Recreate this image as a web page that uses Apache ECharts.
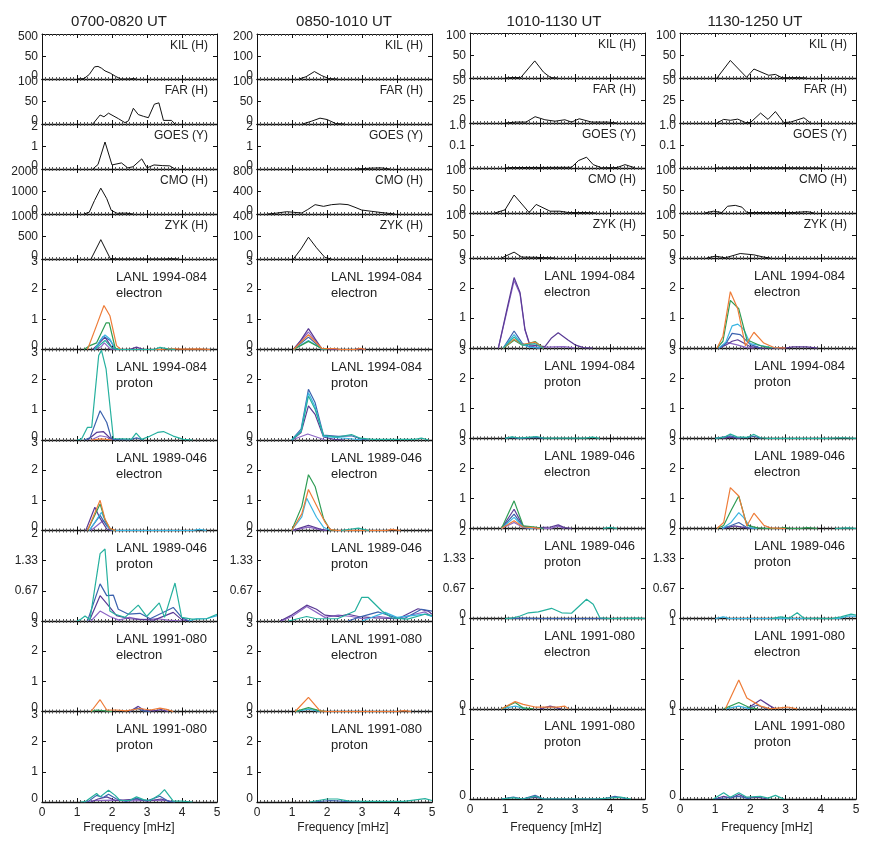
<!DOCTYPE html>
<html>
<head>
<meta charset="utf-8">
<script src="https://cdn.jsdelivr.net/npm/echarts@6/dist/echarts.min.js"></script>
<style>
html,body{margin:0;padding:0;background:#fff;}
#chart{width:887px;height:853px;}
</style>
</head>
<body>
<div id="chart"></div>
<script>
// ---------------- DATA ----------------
const columnTitles = ['0700-0820 UT', '0850-1010 UT', '1010-1130 UT', '1130-1250 UT'];
const freqTicks = ['0', '1', '2', '3', '4', '5'];
const xTitle = 'Frequency [mHz]';
const stationNames = ['KIL (H)', 'FAR (H)', 'GOES (Y)', 'CMO (H)', 'ZYK (H)'];
const lanlNames = [
  ['LANL 1994-084', 'electron'], ['LANL 1994-084', 'proton'],
  ['LANL 1989-046', 'electron'], ['LANL 1989-046', 'proton'],
  ['LANL 1991-080', 'electron'], ['LANL 1991-080', 'proton']
];

// y-axis ranges per column (11 rows each) and their tick labels
const yMax = [
  [100, 100, 2, 2000, 1000, 3, 3, 3, 2, 3, 3],
  [200, 100, 2, 800, 200, 3, 3, 3, 2, 3, 3],
  [100, 50, 0.2, 100, 100, 3, 3, 3, 2, 1, 1],
  [100, 50, 0.2, 100, 100, 3, 3, 3, 2, 1, 1]
];
const L3 = ['0', '1', '2', '3'];
const LP = ['0', '0.67', '1.33', '2'];
const L1 = ['0', '', '', '1'];
const yTickLabels = [
  [['0', '50', '500'], ['0', '50', '100'], ['0', '1', '2'], ['0', '1000', '2000'], ['0', '500', '1000'], L3, L3, L3, LP, L3, L3],
  [['0', '100', '200'], ['0', '50', '100'], ['0', '1', '2'], ['0', '400', '800'], ['0', '100', '400'], L3, L3, L3, LP, L3, L3],
  [['0', '50', '100'], ['0', '25', '50'], ['0', '0.1', '1.0'], ['0', '50', '100'], ['0', '50', '100'], L3, L3, L3, LP, L1, L1],
  [['0', '50', '100'], ['0', '25', '50'], ['0', '0.1', '1.0'], ['0', '50', '100'], ['0', '50', '100'], L3, L3, L3, LP, L1, L1]
];

// ground / GOES spectra: [frequency mHz, power] per column
const KIL = [
  [[1.0,0],[1.2,1],[1.35,10],[1.5,27],[1.6,28],[1.7,24],[1.8,18],[1.95,13],[2.1,6],[2.25,0],[2.5,0],[2.6,1],[2.7,0]],
  [[1.2,0],[1.4,10],[1.64,33],[1.85,15],[2.05,2],[2.3,0]],
  [[1.0,0],[1.2,1],[1.45,1],[1.85,38],[2.1,13],[2.3,1],[2.5,0]],
  [[1.05,0],[1.43,39],[1.89,1.5],[2.1,20],[2.52,6],[2.71,8],[2.9,0.5],[3.33,1],[3.6,0]]
];
const FAR = [
  [[1.45,0],[1.66,20],[1.77,16],[1.9,24],[2.18,12],[2.37,3],[2.47,7],[2.61,35],[2.75,21],[2.9,17],[3.04,14],[3.21,44],[3.34,47],[3.47,8],[3.7,8],[3.8,0]],
  [[1.3,0],[1.55,6],[1.8,13],[2.0,10],[2.25,1],[2.5,0]],
  [[1.0,0],[1.33,1],[1.6,1],[1.86,7],[2.14,3.6],[2.43,2],[2.71,3.6],[2.9,1],[3.12,4.7],[3.48,1],[3.95,1],[4.2,0]],
  [[1.05,0],[1.24,4],[1.43,3],[1.64,4.3],[1.86,0.5],[2.0,0.5],[2.29,11],[2.5,4],[2.71,12.7],[2.95,0.5],[3.14,1],[3.52,5.8],[3.71,0]]
];
const GOES = [
  [[1.45,0],[1.6,0.2],[1.8,1.2],[2.0,0.18],[2.27,0.27],[2.45,0.05],[2.6,0.1],[2.85,0.45],[3.0,0.05],[3.2,0.18],[3.45,0.15],[3.65,0.14],[3.8,0]],
  [[2.8,0],[3.05,0.02],[3.3,0.04],[3.55,0.05],[3.8,0]],
  [[1.0,0],[1.14,0.002],[2.9,0.003],[3.1,0.033],[3.33,0.048],[3.52,0.015],[3.76,0.001],[4.2,0.002],[4.43,0.015],[4.71,0.001]],
  [[1.0,0],[2.0,0.001],[3.0,0.001],[4.0,0]]
];
const CMO = [
  [[1.2,0],[1.35,80],[1.5,600],[1.68,1150],[1.85,680],[1.98,160],[2.15,30],[2.4,40],[2.6,0]],
  [[0.3,0],[0.55,15],[0.85,41],[1.05,30],[1.28,18],[1.45,80],[1.66,166],[1.9,136],[2.13,166],[2.37,178],[2.6,166],[2.8,119],[2.99,71],[3.28,47],[3.66,18],[3.94,0]],
  [[0.71,0],[1.0,7],[1.26,40],[1.69,1],[1.89,19],[2.29,4],[2.57,4],[2.81,1],[3.38,1],[3.6,0]],
  [[0.7,0],[0.95,4],[1.19,1],[1.35,15],[1.57,17],[1.76,13],[1.9,1],[2.57,1],[3.2,1],[3.62,3],[3.81,0]]
];
const ZYK = [
  [[1.4,0],[1.68,430],[1.95,10],[2.2,0],[3.5,0],[3.7,8],[3.9,0]],
  [[1.04,0],[1.26,45],[1.47,97],[1.7,50],[1.94,7],[2.13,0]],
  [[0.9,0],[1.26,13],[1.48,2],[1.86,1.5],[2.43,0]],
  [[0.76,0],[1.0,4],[1.29,0.5],[1.71,10],[2.1,7],[2.38,2],[2.57,0]]
];

// LANL energy-channel spectra per column, keyed by channel c1..c7
const L94e = [
  { c1:[[1.3,0],[1.56,0.8],[1.77,1.46],[1.94,1.12],[2.13,0.13],[2.25,0],[3.4,0],[3.6,0.03],[4.0,0.01],[4.5,0.02],[4.8,0]],
    c2:[[1.2,0],[1.37,0.13],[1.56,0.22],[1.83,0.88],[1.92,0.88],[2.09,0.05],[2.2,0]],
    c3:[[1.5,0],[1.66,0.3],[1.8,0.48],[1.94,0.35],[2.09,0.03],[2.2,0]],
    c4:[[1.5,0],[1.75,0.44],[1.95,0.3],[2.1,0]],
    c5:[[1.45,0],[1.61,0.18],[1.8,0.41],[1.99,0.08],[2.1,0],[2.5,0],[2.7,0.08],[2.9,0]],
    c6:[[1.5,0],[1.7,0.1],[1.78,0.22],[1.95,0.02],[2.1,0]],
    c7:[[1.5,0],[1.8,0.3],[2.0,0.05],[2.2,0],[3.2,0],[3.37,0.07],[3.6,0.02],[3.8,0]] },
  { c5:[[1.04,0],[1.25,0.3],[1.47,0.69],[1.66,0.35],[1.85,0.03],[1.95,0.03],[2.1,0],[2.8,0],[2.9,0.03],[3.1,0]],
    c6:[[1.04,0],[1.47,0.58],[1.85,0.02],[2.0,0]],
    c1:[[1.04,0],[1.47,0.49],[1.85,0.04],[2.0,0.03],[2.23,0.03],[2.4,0],[2.8,0],[2.95,0.04],[3.1,0]],
    c4:[[1.04,0],[1.47,0.41],[1.85,0.02],[2.0,0]],
    c3:[[1.04,0],[1.47,0.3],[1.85,0.02],[2.0,0]],
    c2:[[1.04,0],[1.47,0.27],[1.85,0.03],[2.0,0]] },
  { c5:[[0.81,0],[1.05,1.27],[1.26,2.35],[1.43,1.85],[1.57,0.63],[1.71,0.11],[2.14,0.05],[2.33,0.34],[2.52,0.51],[2.81,0.26],[3.0,0.11],[3.24,0.02],[3.5,0]],
    c6:[[0.81,0],[1.05,1.2],[1.26,2.25],[1.43,1.8],[1.57,0.6],[1.71,0.08],[1.9,0.02],[2.4,0.04],[2.7,0.05],[3.0,0]],
    c4:[[0.95,0],[1.26,0.57],[1.5,0.15],[1.7,0.05],[2.0,0]],
    c3:[[0.95,0],[1.26,0.45],[1.5,0.12],[1.7,0.03],[2.0,0]],
    c7:[[0.95,0],[1.26,0.37],[1.5,0.1],[1.86,0.15],[2.1,0]],
    c2:[[0.95,0],[1.26,0.26],[1.5,0.1],[1.86,0.22],[2.1,0]],
    c1:[[0.95,0],[1.26,0.3],[1.5,0.12],[1.86,0.2],[2.1,0]] },
  { c1:[[1.05,0],[1.22,0.4],[1.43,1.88],[1.64,1.31],[1.86,0.08],[2.1,0.53],[2.38,0.17],[2.67,0.02],[3.0,0]],
    c2:[[1.05,0],[1.22,0.23],[1.43,1.59],[1.67,1.31],[1.9,0.28],[2.29,0.08],[2.6,0]],
    c3:[[1.1,0],[1.3,0.2],[1.48,0.74],[1.64,0.8],[1.81,0.63],[2.0,0.15],[2.57,0.03],[2.8,0]],
    c4:[[1.1,0],[1.3,0.15],[1.48,0.49],[1.71,0.45],[2.0,0.12],[2.3,0]],
    c5:[[1.1,0],[1.3,0.1],[1.48,0.23],[1.64,0.28],[2.0,0.05],[2.3,0],[3.0,0],[3.2,0.04],[3.6,0.04],[3.9,0]],
    c6:[[1.1,0],[1.33,0.19],[1.62,0.11],[1.9,0.02],[2.1,0]] }
];
const L94p = [
  { c7:[[1.0,0],[1.13,0.03],[1.3,0.42],[1.42,0.42],[1.62,2.8],[1.7,2.97],[1.83,2.36],[2.04,0.05],[2.56,0.03],[2.69,0.23],[2.85,0.02],[3.09,0.13],[3.3,0.25],[3.47,0.28],[3.75,0.13],[4.04,0.02],[4.3,0]],
    c4:[[1.2,0],[1.37,0.07],[1.66,0.97],[1.85,0.58],[1.99,0.02],[2.5,0],[2.7,0.07],[2.9,0]],
    c5:[[1.3,0],[1.56,0.25],[1.75,0.28],[1.94,0.07],[2.1,0]],
    c6:[[1.4,0],[1.66,0.14],[1.85,0.1],[2.0,0]],
    c1:[[1.4,0],[1.7,0.04],[2.0,0]] },
  { c4:[[0.99,0],[1.26,0.36],[1.47,1.68],[1.66,1.24],[1.9,0.16],[2.32,0.12],[2.7,0.14],[2.99,0.03],[3.2,0]],
    c3:[[0.99,0],[1.26,0.3],[1.47,1.57],[1.66,1.1],[1.9,0.12],[2.3,0.08],[2.6,0.05],[3.0,0]],
    c7:[[0.99,0],[1.26,0.28],[1.47,1.46],[1.66,1.02],[1.9,0.15],[2.3,0.1],[2.7,0.18],[2.95,0.06],[3.3,0.02],[4.5,0.02],[4.7,0.06],[4.9,0]],
    c5:[[1.0,0],[1.26,0.25],[1.47,1.13],[1.66,0.85],[1.9,0.1],[2.2,0.02],[2.5,0]],
    c6:[[1.0,0],[1.45,0.2],[1.7,0.1],[1.95,0]] },
  { c7:[[1.0,0],[1.2,0.05],[1.4,0.01],[1.9,0.06],[2.1,0.01],[3.3,0.01],[3.5,0.04],[3.7,0]],
    c4:[[1.0,0],[1.2,0.03],[1.4,0],[1.9,0.03],[2.1,0]] },
  { c7:[[1.0,0],[1.24,0.03],[1.43,0.14],[1.62,0.05],[1.9,0.03],[2.1,0.13],[2.29,0.02],[2.5,0],[4.2,0],[4.6,0.02],[5,0]],
    c4:[[1.0,0],[1.43,0.08],[1.62,0.02],[1.9,0.02],[2.1,0.07],[2.3,0]],
    c5:[[1.2,0],[1.43,0.04],[1.7,0]] }
];
const L89e = [
  { c1:[[1.3,0],[1.66,1.0],[1.8,0.38],[1.94,0.07],[2.1,0]],
    c2:[[1.3,0],[1.66,0.88],[1.8,0.35],[1.95,0.05],[2.1,0]],
    c5:[[1.25,0],[1.51,0.77],[1.66,0.4],[1.85,0.05],[2.0,0]],
    c3:[[1.35,0],[1.7,0.6],[1.9,0.1],[2.05,0],[4.3,0],[4.5,0.04],[4.7,0]],
    c4:[[1.35,0],[1.66,0.5],[1.85,0.15],[2.0,0]],
    c6:[[1.4,0],[1.75,0.33],[1.95,0.05],[2.1,0]] },
  { c2:[[0.99,0],[1.28,0.8],[1.47,1.85],[1.66,1.46],[1.9,0.4],[2.09,0.02],[2.3,0]],
    c1:[[0.99,0],[1.28,0.55],[1.47,1.36],[1.7,0.83],[1.94,0.28],[2.1,0.03],[2.3,0],[3.7,0],[3.85,0.04],[4.1,0]],
    c3:[[0.99,0],[1.28,0.45],[1.42,1.07],[1.7,0.44],[1.9,0.11],[2.1,0]],
    c5:[[1.0,0],[1.47,0.17],[1.8,0.05],[2.0,0]],
    c6:[[1.0,0],[1.47,0.11],[1.8,0.03],[2.0,0]],
    c7:[[2.4,0],[2.7,0.05],[2.9,0.08],[3.2,0]] },
  { c2:[[0.9,0],[1.26,0.92],[1.52,0.09],[1.86,0.05],[2.1,0]],
    c5:[[0.9,0],[1.26,0.64],[1.52,0.08],[1.8,0.02],[2.3,0.05],[2.52,0.12],[2.7,0.03],[2.9,0]],
    c4:[[0.9,0],[1.26,0.48],[1.52,0.06],[1.8,0]],
    c3:[[0.9,0],[1.26,0.37],[1.52,0.05],[1.8,0]],
    c1:[[0.9,0],[1.26,0.26],[1.52,0.05],[1.8,0.03],[2.0,0]],
    c6:[[0.9,0],[1.26,0.2],[1.52,0.03],[1.8,0],[2.3,0],[2.52,0.08],[2.7,0]],
    c7:[[3.8,0],[4.0,0.04],[4.2,0]] },
  { c1:[[1.05,0],[1.24,0.2],[1.43,1.36],[1.67,1.08],[1.9,0.09],[2.1,0.51],[2.38,0.11],[2.57,0.02],[3.0,0]],
    c2:[[1.05,0],[1.24,0.1],[1.45,0.6],[1.67,1.08],[1.9,0.11],[2.2,0.02],[2.5,0],[2.8,0],[2.95,0.03],[3.2,0],[3.4,0],[3.62,0.03],[3.9,0]],
    c3:[[1.2,0],[1.45,0.2],[1.67,0.53],[1.81,0.36],[2.0,0.03],[2.2,0]],
    c4:[[1.2,0],[1.45,0.1],[1.67,0.2],[1.9,0.03],[2.1,0]],
    c5:[[1.2,0],[1.55,0.09],[1.8,0.04],[2.0,0]],
    c7:[[4.4,0],[4.8,0.02],[5,0]] }
];
const L89p = [
  { c7:[[1.0,0],[1.09,0.03],[1.23,0.11],[1.37,0.03],[1.66,1.49],[1.8,1.59],[1.94,0.22],[2.09,0.15],[2.37,0.08],[2.75,0.35],[2.99,0.1],[3.35,0.4],[3.5,0.08],[3.8,0.84],[3.99,0.08],[4.28,0.04],[4.7,0.05],[5.0,0.15]],
    c4:[[1.3,0],[1.66,0.82],[1.85,0.56],[2.04,0.57],[2.18,0.26],[2.47,0.15],[2.8,0.17],[3.09,0.05],[3.75,0.3],[3.99,0.08],[4.2,0]],
    c5:[[1.35,0],[1.66,0.56],[1.94,0.3],[2.13,0.12],[2.5,0.05],[3.2,0.02],[3.75,0.19],[3.99,0.03],[4.2,0]],
    c6:[[1.4,0],[1.66,0.22],[1.94,0.1],[2.2,0.02],[2.5,0.08],[2.8,0.03],[3.3,0.05],[3.6,0.02],[4.0,0]],
    c3:[[4.2,0],[4.42,0.05],[4.7,0.05],[5.0,0.12]] },
  { c5:[[0.66,0],[0.99,0.13],[1.42,0.35],[1.7,0.26],[1.94,0.13],[2.32,0.1],[2.6,0.15],[2.9,0.1],[3.37,0.07],[4.03,0.05],[4.6,0.27],[4.89,0.22],[5.0,0.15]],
    c6:[[0.7,0],[1.0,0.1],[1.42,0.32],[1.94,0.08],[2.32,0.13],[2.7,0.1],[3.0,0.05],[3.5,0.1],[4.0,0.05],[4.5,0.15],[4.8,0.2],[5.0,0.1]],
    c7:[[0.9,0],[1.42,0.1],[1.7,0.05],[2.3,0.05],[2.8,0.22],[2.99,0.52],[3.18,0.52],[3.57,0.22],[3.85,0.07],[4.3,0.04],[4.8,0.15],[5.0,0.12]],
    c4:[[2.6,0],[2.9,0.08],[3.47,0.2],[3.94,0.08],[4.2,0.05],[4.7,0.26],[5.0,0.22]],
    c3:[[3.0,0],[3.66,0.19],[4.0,0.08],[4.8,0.15],[5.0,0.1]] },
  { c7:[[1.0,0],[1.19,0.01],[1.43,0.06],[1.67,0.13],[1.95,0.15],[2.33,0.23],[2.62,0.13],[2.9,0.12],[3.33,0.43],[3.52,0.32],[3.71,0.02],[4.0,0],[4.8,0.01],[5.0,0]],
    c4:[[1.0,0],[1.5,0.01],[2.0,0],[4.0,0]] },
  { c7:[[2.6,0],[2.86,0.04],[3.1,0.01],[3.33,0.13],[3.52,0.01],[4.3,0],[4.57,0.04],[4.86,0.1],[5.0,0.08]],
    c3:[[1.0,0],[1.24,0.04],[1.4,0],[4.5,0],[4.8,0.06],[5,0.05]] }
];
const L91e = [
  { c1:[[1.4,0],[1.66,0.39],[1.85,0.05],[2.13,0.05],[2.4,0.02],[2.8,0.1],[3.1,0.05],[3.37,0.11],[3.56,0.07],[3.75,0]],
    c5:[[2.5,0],[2.75,0.17],[2.9,0.05],[3.2,0.02],[3.4,0.06],[3.6,0]],
    c2:[[1.4,0],[1.56,0.05],[1.8,0.02],[2.0,0]],
    c4:[[2.5,0],[2.7,0.11],[2.9,0.02],[3.1,0]] },
  { c1:[[1.09,0],[1.47,0.47],[1.8,0.02],[2.0,0],[4.0,0],[4.2,0.03],[4.4,0]],
    c2:[[1.09,0],[1.47,0.13],[1.8,0.02],[2.0,0]],
    c3:[[1.09,0],[1.47,0.08],[1.8,0]] },
  { c1:[[0.9,0],[1.29,0.08],[1.52,0.05],[1.86,0.02],[2.5,0.02],[2.71,0.03],[2.81,0]],
    c2:[[0.9,0],[1.29,0.07],[1.52,0.01],[1.8,0]],
    c5:[[2.0,0],[2.29,0.03],[2.6,0]],
    c3:[[0.9,0],[1.29,0.03],[1.6,0]] },
  { c1:[[1.29,0],[1.67,0.32],[1.9,0.12],[2.29,0.03],[2.57,0],[3.05,0.02],[3.33,0]],
    c2:[[1.24,0],[1.67,0.07],[2.0,0.01],[2.2,0]],
    c5:[[1.9,0],[2.29,0.1],[2.57,0.03],[2.71,0]],
    c4:[[1.9,0],[2.19,0.04],[2.5,0]],
    c3:[[1.3,0],[1.67,0.03],[2.0,0]] }
];
const L91p = [
  { c7:[[1.1,0],[1.23,0.01],[1.56,0.28],[1.66,0.17],[1.9,0.39],[2.09,0.22],[2.23,0.05],[2.5,0.05],[2.7,0.17],[2.9,0.08],[3.09,0.05],[3.37,0.25],[3.5,0.41],[3.75,0.03],[4.0,0.03],[4.3,0]],
    c4:[[1.3,0],[1.56,0.22],[1.75,0.15],[1.9,0.26],[2.13,0.1],[2.4,0.02],[2.7,0.12],[3.0,0.04],[3.37,0.19],[3.6,0.03],[3.8,0]],
    c5:[[1.4,0],[1.6,0.1],[1.85,0.17],[2.1,0.05],[2.7,0.1],[3.0,0.03],[3.4,0.1],[3.7,0]],
    c6:[[1.2,0],[1.5,0.05],[2.0,0.06],[2.5,0.04],[3.0,0.05],[3.5,0.06],[3.8,0]] },
  { c7:[[1.5,0],[2.0,0.1],[2.3,0.1],[2.6,0.04],[3.0,0.02],[3.5,0.02],[4.2,0.02],[4.8,0.11],[5.0,0.05]],
    c4:[[1.6,0],[2.1,0.05],[2.5,0.02],[3.0,0]] },
  { c4:[[0.9,0],[1.24,0.02],[1.5,0],[1.86,0.04],[2.1,0],[3.8,0],[4.14,0.03],[4.5,0]],
    c7:[[0.9,0],[1.24,0.015],[1.5,0],[1.86,0.03],[2.1,0],[3.6,0],[4.3,0.02],[4.6,0]],
    c5:[[1.5,0],[1.86,0.02],[2.1,0]] },
  { c7:[[0.95,0],[1.24,0.07],[1.43,0.02],[1.67,0.07],[1.9,0.02],[2.29,0.03],[2.5,0.01],[2.71,0.04],[2.95,0]],
    c5:[[1.0,0],[1.24,0.03],[1.45,0.01],[1.67,0.05],[1.9,0.01],[2.2,0.02],[2.5,0]],
    c4:[[1.0,0],[1.67,0.03],[2.0,0]] }
];

// ---------------- LAYOUT / STYLE ----------------
const stationRows = [KIL, FAR, GOES, CMO, ZYK];
const lanlRows = [L94e, L94p, L89e, L89p, L91e, L91p];
const channelColors = { c1:'#ee7c38', c2:'#2f9d55', c3:'#3ab5e2', c4:'#3c62ae', c5:'#5a3a95', c6:'#8c66c4', c7:'#25b09e' };
const drawOrder = ['c6', 'c5', 'c4', 'c3', 'c2', 'c1', 'c7'];
const colLeft = [42, 257, 470, 680];
const colWidth = [175, 175, 175, 176];
const colTop = [34, 34, 33, 33];
const colBottom = [802, 802, 799, 799];
const titleX = [119, 344, 554, 755];
const xTitleX = [129, 343, 556, 767];
const SMALL_H = 45;
const FONT = '"Liberation Sans", Arial, "Noto Sans", sans-serif';
const TXT = '#222';

const grids = [], xAxes = [], yAxes = [], series = [], graphics = [];

function addPanel(c, r) {
  const g = grids.length;
  const bigH = (colBottom[c] - colTop[c] - 5 * SMALL_H) / 6;
  const top = colTop[c] + (r < 5 ? r * SMALL_H : 5 * SMALL_H + (r - 5) * bigH);
  const h = r < 5 ? SMALL_H : bigH;
  const left = colLeft[c], w = colWidth[c];
  grids.push({ left: left, top: top, width: w, height: h, show: false, containLabel: false });
  const last = r === 10;
  const xBase = {
    type: 'value', gridIndex: g, min: 0, max: 5, interval: 1,
    splitLine: { show: false }, minorSplitLine: { show: false },
    axisLine: { show: true, onZero: false, lineStyle: { color: '#111', width: 1.3 } },
    axisTick: { show: true, inside: true, length: 4, lineStyle: { color: '#111' } },
    minorTick: { show: true, splitNumber: 10, length: 2, lineStyle: { color: '#555' } }
  };
  xAxes.push(Object.assign({}, xBase, {
    position: 'bottom',
    axisLabel: { show: last, margin: 5, fontSize: 12, fontFamily: FONT, color: TXT,
      formatter: (v) => freqTicks[Math.round(v)] }
  }));
  xAxes.push(Object.assign({}, xBase, { position: 'top', axisLabel: { show: false },
    axisLine: { show: true, onZero: false, lineStyle: { color: '#111', width: 1 } } }));
  const labels = yTickLabels[c][r];
  const n = labels.length - 1;
  const mx = yMax[c][r];
  const iv = mx / n;
  const yBase = {
    type: 'value', gridIndex: g, min: 0, max: mx, interval: iv,
    splitLine: { show: false },
    axisLine: { show: true, onZero: false, lineStyle: { color: '#111', width: 1 } },
    axisTick: { show: true, inside: true, length: 4, lineStyle: { color: '#111' } }
  };
  yAxes.push(Object.assign({}, yBase, {
    position: 'left',
    axisLabel: {
      show: true, margin: 4, fontSize: 12, fontFamily: FONT, color: TXT,
      formatter: (v) => {
        const i = Math.round(v / iv);
        const t = labels[i];
        if (!t) return '';
        if (i === 0) return '{lo|' + t + '}';
        if (i === n) return '{hi|' + t + '}';
        return t;
      },
      rich: {
        lo: { fontSize: 12, fontFamily: FONT, color: TXT, padding: [0, 0, 7, 0] },
        hi: { fontSize: 12, fontFamily: FONT, color: TXT, padding: [6, 0, 0, 0] }
      }
    }
  }));
  yAxes.push(Object.assign({}, yBase, { position: 'right', axisLabel: { show: false } }));

  if (r < 5) {
    series.push({
      type: 'line', xAxisIndex: 2 * g, yAxisIndex: 2 * g, data: stationRows[r][c],
      showSymbol: false, silent: true, lineStyle: { color: '#111', width: 1 }, z: 3
    });
    graphics.push({ type: 'text', x: left + w - 9, y: top + 12, silent: true,
      style: { text: stationNames[r], fill: TXT, font: '12px ' + FONT, textAlign: 'right', textVerticalAlign: 'middle', verticalAlign: 'middle' } });
  } else {
    const set = lanlRows[r - 5][c];
    drawOrder.forEach(k => {
      if (set[k]) {
        series.push({
          type: 'line', xAxisIndex: 2 * g, yAxisIndex: 2 * g, data: set[k],
          showSymbol: false, silent: true, lineStyle: { color: channelColors[k], width: 1.2 }, z: 3
        });
      }
    });
    const nm = lanlNames[r - 5];
    graphics.push({ type: 'text', x: left + 74, y: top + 18, silent: true,
      style: { text: nm[0], fill: TXT, font: '13px ' + FONT, textAlign: 'left', textVerticalAlign: 'middle', verticalAlign: 'middle' } });
    graphics.push({ type: 'text', x: left + 74, y: top + 34, silent: true,
      style: { text: nm[1], fill: TXT, font: '13px ' + FONT, textAlign: 'left', textVerticalAlign: 'middle', verticalAlign: 'middle' } });
  }
}

for (let c = 0; c < 4; c++) {
  for (let r = 0; r < 11; r++) addPanel(c, r);
  graphics.push({ type: 'text', x: titleX[c], y: 22, silent: true,
    style: { text: columnTitles[c], fill: TXT, font: '15px ' + FONT, textAlign: 'center', textVerticalAlign: 'middle', verticalAlign: 'middle' } });
  graphics.push({ type: 'text', x: xTitleX[c], y: 828, silent: true,
    style: { text: xTitle, fill: TXT, font: '12px ' + FONT, textAlign: 'center', textVerticalAlign: 'middle', verticalAlign: 'middle' } });
}

const chart = echarts.init(document.getElementById('chart'), null, { renderer: 'canvas' });
chart.setOption({
  backgroundColor: '#fff',
  animation: false,
  grid: grids,
  xAxis: xAxes,
  yAxis: yAxes,
  series: series,
  graphic: graphics
});
</script>
</body>
</html>
